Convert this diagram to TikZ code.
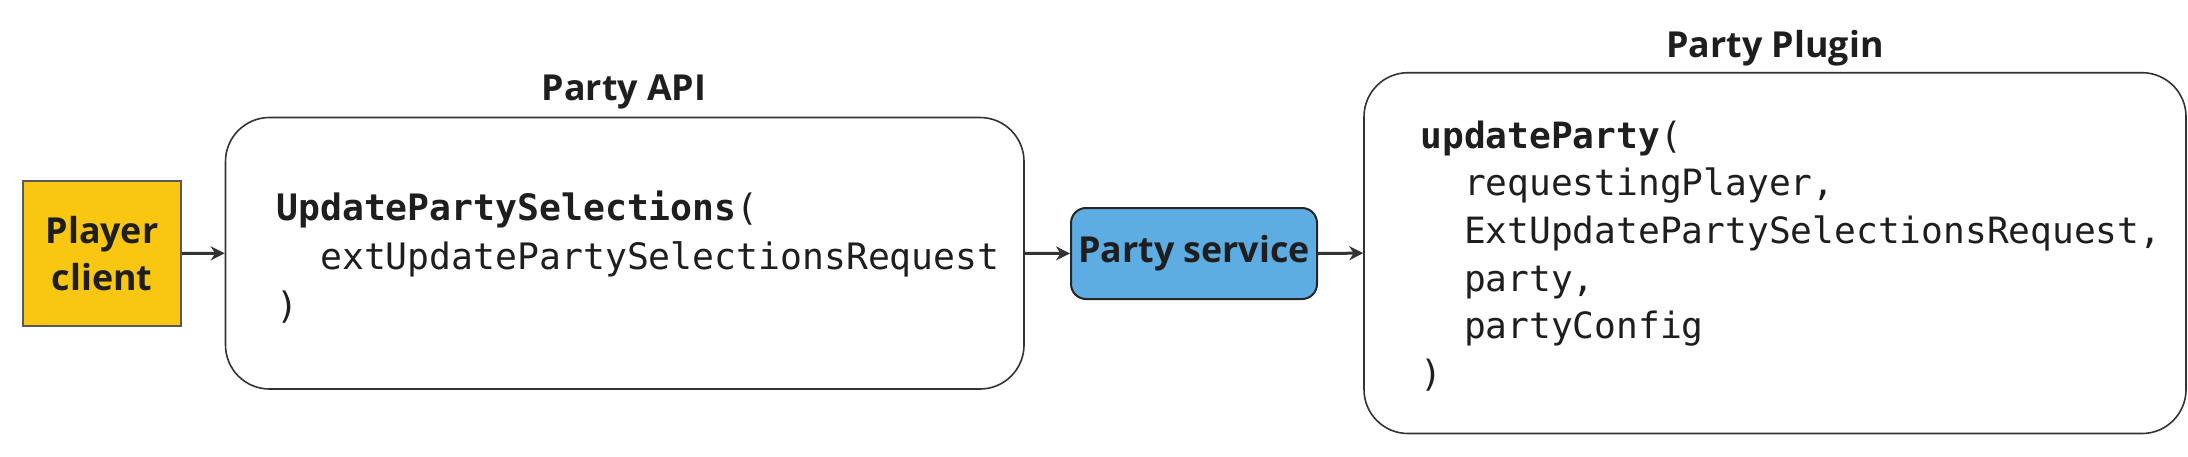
\documentclass[tikz,border=0pt]{standalone}
\usepackage{fontspec}
\setmainfont{Open Sans}
\setmonofont{DejaVu Sans Mono}
\usetikzlibrary{arrows.meta}
\definecolor{ylw}{HTML}{F9C612}
\definecolor{blu}{HTML}{5DACE2}
\definecolor{edgec}{HTML}{333333}
\definecolor{txt}{HTML}{1E1E1E}
\begin{document}
\begin{tikzpicture}[x=0.5pt,y=-0.5pt,
  lbl/.style={font=\fontsize{17.9pt}{23.4pt}\selectfont\bfseries, text=txt, inner sep=0pt},
  codebox/.style={draw=edgec, line width=0.8pt, rounded corners=22pt, fill=white},
  code/.style={font=\fontsize{18.2pt}{24.5pt}\selectfont\ttfamily, text=txt, align=left, inner sep=0pt, anchor=west},
  arr/.style={draw=edgec, line width=1.5pt, -{Stealth[length=7pt,width=7pt]}}
]
\useasboundingbox (0,0) rectangle (2188,456);
\node[draw=black!65, line width=1pt, fill=ylw, minimum width=79pt, minimum height=72.5pt, align=center,
  font=\fontsize{17.9pt}{23.4pt}\selectfont\bfseries, text=txt, inner sep=0pt] (pc) at (102,253.5) {Player\\client};
\node[codebox, minimum width=399.25pt, minimum height=135.75pt] (api) at (624.75,253.25) {};
\node[lbl] (apil) at (624,92) {Party API};
\node[code] (apic) at (276,257) {\textbf{UpdatePartySelections}(\\\ \ extUpdatePartySelectionsRequest\\)};
\node[draw=black!85, line width=1pt, fill=blu, rounded corners=7.5pt, minimum width=123pt, minimum height=45.5pt,
  font=\fontsize{17.9pt}{23.4pt}\selectfont\bfseries, text=txt, inner sep=0pt] (svc) at (1194,253.5) {Party service};
\node[codebox, minimum width=411pt, minimum height=180.4pt] (plug) at (1775,253.1) {};
\node[lbl] (plugl) at (1775,48) {Party Plugin};
\node[code, font=\fontsize{18.1pt}{23.8pt}\selectfont\ttfamily] (plugc) at (1420,256) {\textbf{updateParty}(\\\ \ requestingPlayer,\\\ \ ExtUpdatePartySelectionsRequest,\\\ \ party,\\\ \ partyConfig\\)};
\draw[arr] (pc.east) -- (api.west);
\draw[arr] (api.east) -- (svc.west);
\draw[arr] (svc.east) -- (plug.west);
\end{tikzpicture}
\end{document}
